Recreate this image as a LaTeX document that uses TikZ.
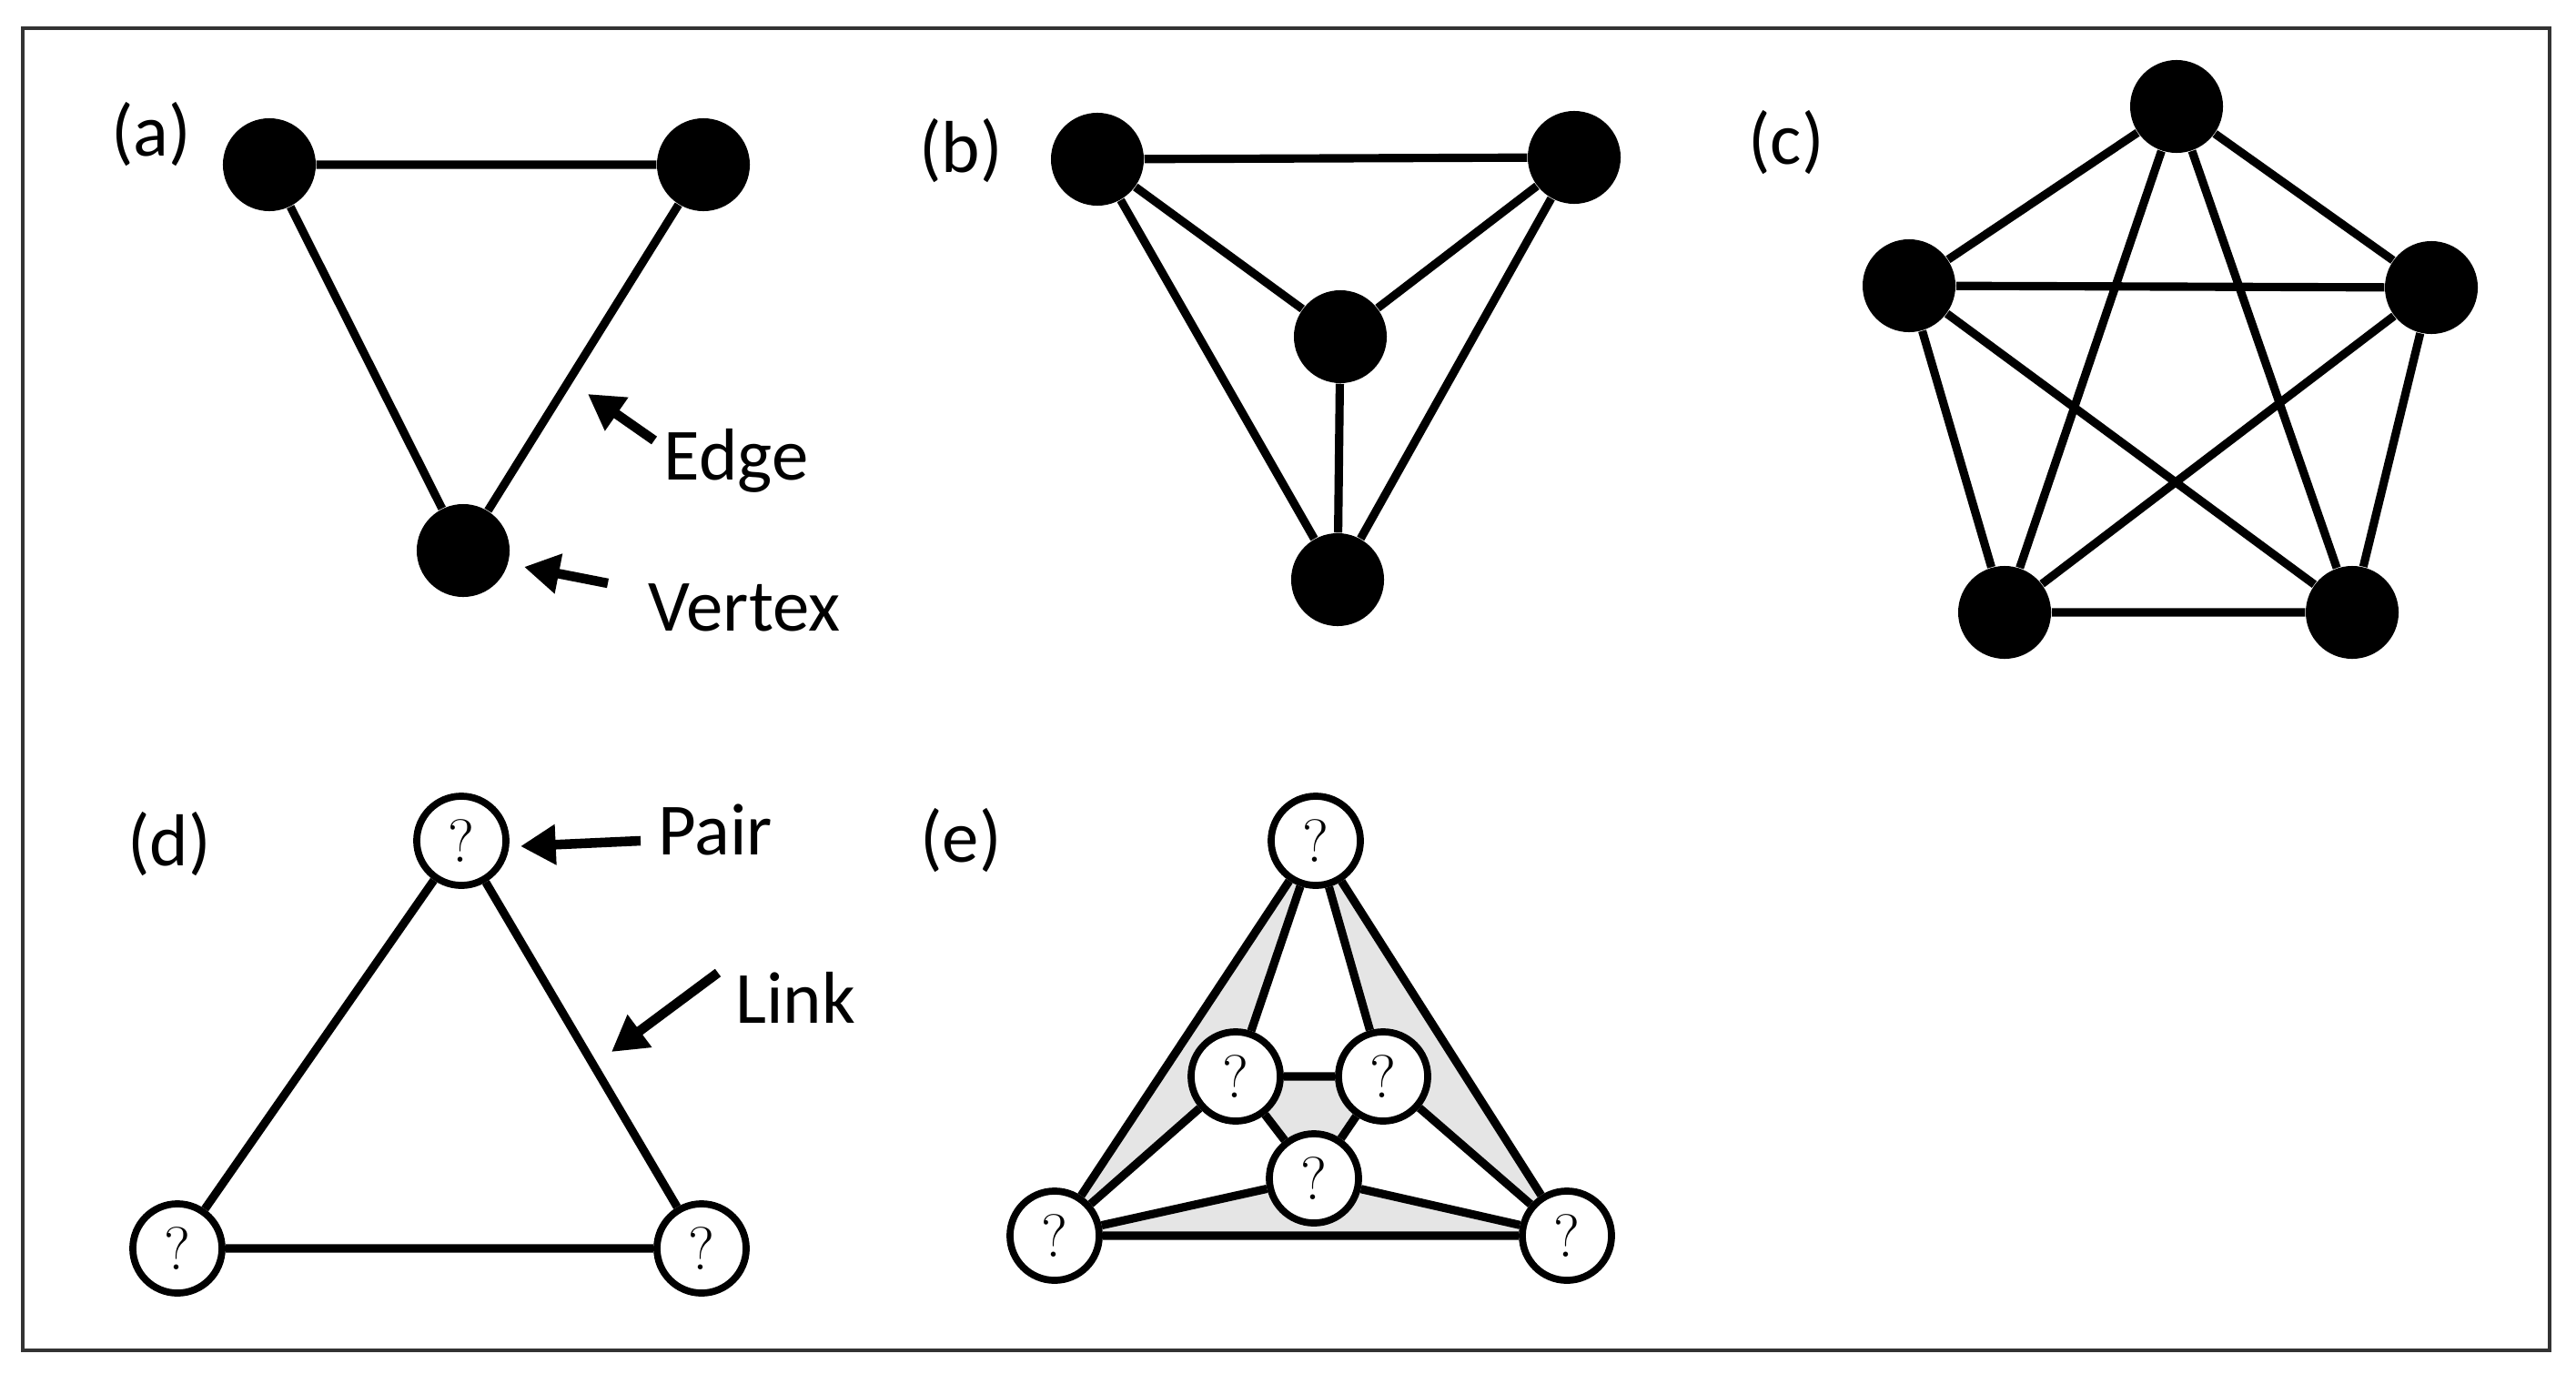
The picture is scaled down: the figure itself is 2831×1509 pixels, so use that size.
\documentclass[tikz,border=0pt]{standalone}
\usepackage{fontspec}
\setmainfont{Carlito}
\usetikzlibrary{arrows.meta}
\begin{document}
\begin{tikzpicture}[x=0.01cm,y=-0.01cm,
  bv/.style={circle,fill=black,minimum size=102\pgflinewidth,inner sep=0pt},
  bv/.style={circle,fill=black,minimum size=1.02cm,inner sep=0pt},
  qv/.style={circle,draw=black,fill=white,line width=2.2pt,minimum size=0.98cm,inner sep=0pt,font=\fontspec{Latin Modern Roman}\fontsize{19}{20}\selectfont},
  ed/.style={line width=2.6pt},
  lab/.style={font=\fontsize{23}{28}\selectfont},
  ar/.style={line width=3pt,-{Triangle[length=11pt,width=12pt]}}]
\useasboundingbox (0,0) rectangle (2831,1509);
\draw[line width=1pt,draw=black!80] (25,31) rectangle (2802,1484);
% (a)
\node[lab] (la) at (166,148) {(a)};
\node[bv] (a1) at (296,181) {};
\node[bv] (a2) at (773,181) {};
\node[bv] (a3) at (509,605) {};
\draw[ed] (a1)--(a2) (a1)--(a3) (a2)--(a3);
\node[lab] (te) at (809,506) {Edge};
\coordinate (e0) at (719,484); \coordinate (e1) at (646,433);
\draw[ar] (e0)--(e1);
\node[lab] (tv) at (818,668) {Vertex};
\coordinate (v0) at (668,641); \coordinate (v1) at (576,623);
\draw[ar] (v0)--(v1);
% (b)
\node[lab] (lb) at (1056,166) {(b)};
\node[bv] (b1) at (1206,175) {};
\node[bv] (b2) at (1730,173) {};
\node[bv] (b3) at (1473,370) {};
\node[bv] (b4) at (1470,637) {};
\draw[ed] (b1)--(b2) (b1)--(b3) (b2)--(b3) (b3)--(b4) (b1)--(b4) (b2)--(b4);
% (c)
\node[lab] (lc) at (1963,157) {(c)};
\node[bv] (c1) at (2392,117) {};
\node[bv] (c2) at (2098,314) {};
\node[bv] (c3) at (2672,316) {};
\node[bv] (c4) at (2203,673) {};
\node[bv] (c5) at (2585,673) {};
\draw[ed] (c1)--(c2) (c1)--(c3) (c1)--(c4) (c1)--(c5) (c2)--(c3) (c2)--(c4) (c2)--(c5) (c3)--(c4) (c3)--(c5) (c4)--(c5);
% (d)
\node[lab] (ld) at (186,928) {(d)};
\node[qv] (d1) at (507,924) {?};
\node[qv] (d2) at (195,1372) {?};
\node[qv] (d3) at (771,1372) {?};
\draw[ed] (d1)--(d2) (d1)--(d3) (d2)--(d3);
\node[lab] (tp) at (786,912) {Pair};
\coordinate (p0) at (704,924); \coordinate (p1) at (572,930);
\draw[ar] (p0)--(p1);
\node[lab] (tl) at (874,1096) {Link};
\coordinate (l0) at (789,1069); \coordinate (l1) at (672,1156);
\draw[ar] (l0)--(l1);
% (e)
\node[lab] (le) at (1056,924) {(e)};
\coordinate (E1) at (1446,924);
\coordinate (E2) at (1358,1183);
\coordinate (E3) at (1520,1183);
\coordinate (E4) at (1444,1295);
\coordinate (E5) at (1159,1358);
\coordinate (E6) at (1722,1358);
\fill[black!10] (E1)--(E5)--(E2)--cycle;
\fill[black!10] (E1)--(E6)--(E3)--cycle;
\fill[black!10] (E2)--(E3)--(E4)--cycle;
\fill[black!10] (E5)--(E4)--(E6)--cycle;
\node[qv] (e1) at (E1) {?};
\node[qv] (e2) at (E2) {?};
\node[qv] (e3) at (E3) {?};
\node[qv] (e4) at (E4) {?};
\node[qv] (e5) at (E5) {?};
\node[qv] (e6) at (E6) {?};
\begin{scope}[on background layer/.style={}]
\end{scope}
\draw[ed] (e1)--(e5) (e1)--(e6) (e1)--(e2) (e1)--(e3) (e2)--(e3) (e2)--(e4) (e3)--(e4) (e2)--(e5) (e3)--(e6) (e4)--(e5) (e4)--(e6) (e5)--(e6);
\end{tikzpicture}
\end{document}
